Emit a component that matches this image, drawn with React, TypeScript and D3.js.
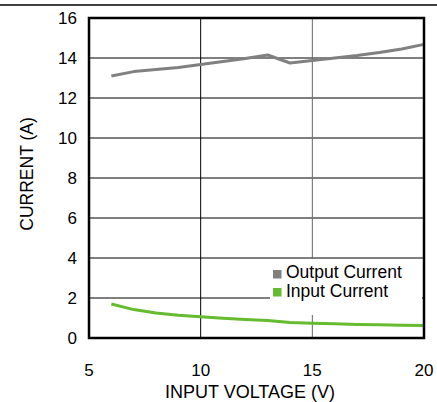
import React from "react";
import * as d3 from "d3";

const voltage = [6, 7, 8, 9, 10, 11, 12, 13, 14, 15, 16, 17, 18, 19, 20];
const outputCurrent = [13.1, 13.32, 13.43, 13.53, 13.67, 13.82, 13.97, 14.15, 13.75, 13.88, 14.0, 14.12, 14.27, 14.45, 14.68];
const inputCurrent = [1.7, 1.42, 1.25, 1.14, 1.06, 0.99, 0.93, 0.88, 0.77, 0.74, 0.71, 0.68, 0.66, 0.64, 0.62];
const xTicks = [5, 10, 15, 20];
const yTicks = [0, 2, 4, 6, 8, 10, 12, 14, 16];
const legendLabels = ["Output Current", "Input Current"];
const colors = ["#808080", "#66bb2e"];

export default function App() {
  const W = 437, H = 402;
  const left = 89, right = 424, top = 18, bottom = 338;
  const x = d3.scaleLinear().domain([5, 20]).range([left, right]);
  const y = d3.scaleLinear().domain([0, 16]).range([bottom, top]);
  const line = d3.line<number>().x((_, i) => x(voltage[i])).y((d) => y(d));
  const font = "'Liberation Sans', Arial, sans-serif";
  return (
    <svg width={W} height={H} style={{ position: "absolute", left: 0, top: 0 }} fontFamily={font}>
      <rect width={W} height={H} fill="#fff" />
      <line x1={0} x2={W} y1={5} y2={5} stroke="#000" strokeWidth={1.5} />
      {yTicks.slice(1, -1).map((t) => (
        <line key={"gy" + t} x1={left} x2={right} y1={y(t)} y2={y(t)} stroke="#000" strokeWidth={1} />
      ))}
      {xTicks.slice(1, -1).map((t, i) => (
        <line key={"gx" + t} x1={x(t)} x2={x(t)} y1={top} y2={bottom} stroke={i === 0 ? "#000" : "#666"} strokeWidth={1} />
      ))}
      <path d={line(outputCurrent) || ""} fill="none" stroke={colors[0]} strokeWidth={3} strokeLinejoin="round" />
      <path d={line(inputCurrent) || ""} fill="none" stroke={colors[1]} strokeWidth={3} strokeLinejoin="round" />
      <rect x={270} y={259} width={right - 270 - 2} height={56} fill="#fff" />
      {legendLabels.map((l, i) => (
        <g key={l}>
          <rect x={273} y={270 + i * 18} width={8.5} height={8.5} fill={colors[i]} />
          <text x={286} y={278 + i * 18.5} fontSize={17.5} fill="#000">{l}</text>
        </g>
      ))}
      <rect x={left} y={top} width={right - left} height={bottom - top} fill="none" stroke="#000" strokeWidth={2.5} />
      {yTicks.map((t) => (
        <text key={"yl" + t} x={77} y={y(t)} dy="0.35em" textAnchor="end" fontSize={17}>{t}</text>
      ))}
      {xTicks.map((t) => (
        <text key={"xl" + t} x={x(t)} y={370} dy="0.35em" textAnchor="middle" fontSize={17}>{t}</text>
      ))}
      <text x={250} y={392} dy="0.35em" textAnchor="middle" fontSize={18}>INPUT VOLTAGE (V)</text>
      <text transform={`translate(27,174) rotate(-90)`} dy="0.35em" textAnchor="middle" fontSize={17.5}>CURRENT (A)</text>
    </svg>
  );
}
